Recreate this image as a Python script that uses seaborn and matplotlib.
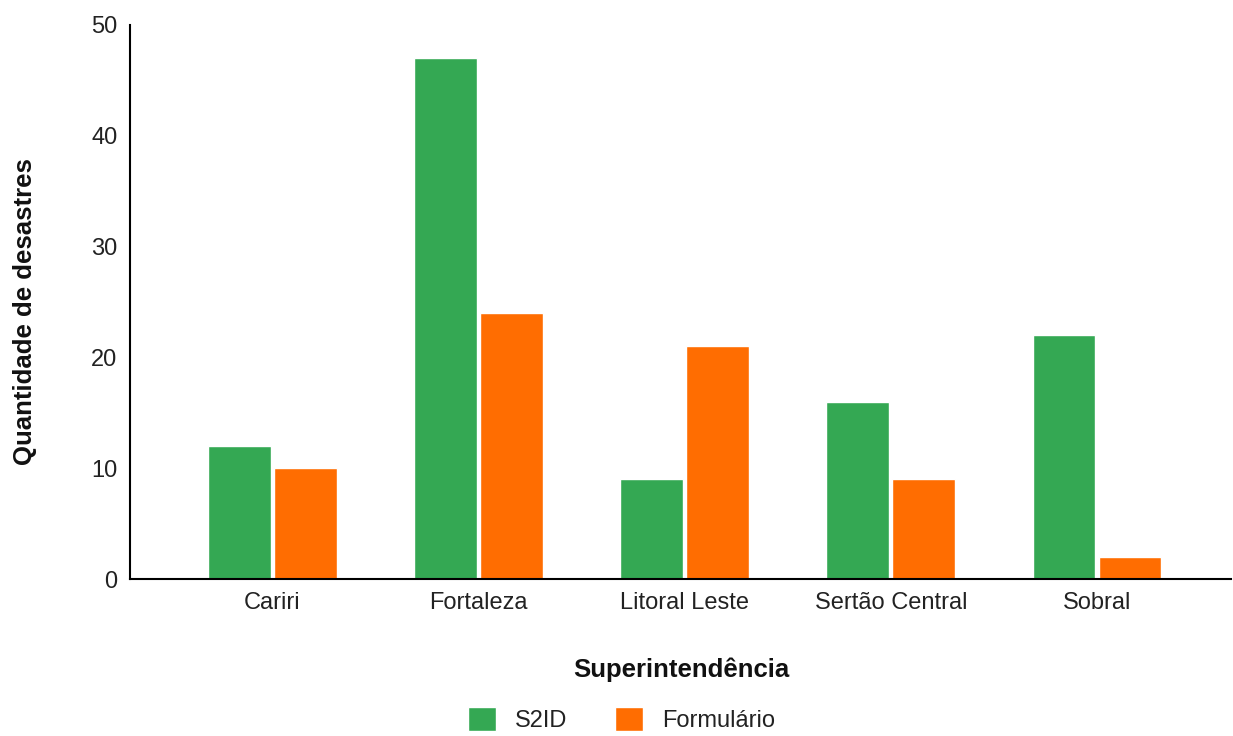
import pandas as pd
import numpy as np
import seaborn as sns
import matplotlib.pyplot as plt

categorias = ["Cariri", "Fortaleza", "Litoral Leste", "Sertão Central", "Sobral"]
s2id = [12, 47, 9, 16, 22]
formulario = [10, 24, 21, 9, 2]

df = pd.DataFrame({"Superintendência": categorias * 2,
                   "valor": s2id + formulario,
                   "fonte": ["S2ID"] * 5 + ["Formulário"] * 5})

sns.set_style("white")
plt.rcParams["font.family"] = ["Liberation Sans", "DejaVu Sans"]

fig = plt.figure(figsize=(12.33, 7.36), dpi=100)
ax = fig.add_axes([0.1054, 0.2133, 0.893, 0.753])

sns.barplot(data=df, x="Superintendência", y="valor", hue="fonte",
            palette={"S2ID": "#34A853", "Formulário": "#FF6D01"},
            saturation=1, width=0.64, gap=0.05, ax=ax, legend=True)

ax.set_ylim(0, 50)
ax.set_xlim(-0.69, 4.65)
ax.set_yticks([0, 10, 20, 30, 40, 50])
ax.tick_params(axis="both", length=0, labelsize=17, colors="#222222", pad=9)
for s in ["top", "right"]:
    ax.spines[s].set_visible(False)
for s in ["left", "bottom"]:
    ax.spines[s].set_color("black")
    ax.spines[s].set_linewidth(1.5)

ax.set_xlabel("Superintendência", fontsize=18.5, fontweight="bold", color="#111111")
ax.set_ylabel("Quantidade de desastres", fontsize=18.5, fontweight="bold", color="#111111")
ax.xaxis.set_label_coords(0.501, -0.164)
ax.yaxis.set_label_coords(-0.095, 0.482)
ax.xaxis.label.set_va("center")
ax.yaxis.label.set_va("center")

ax.get_legend().remove()
handles, labels = ax.get_legend_handles_labels()
fig.legend(handles, labels, loc="center", bbox_to_anchor=(0.504, 0.022), ncol=2, frameon=False,
           fontsize=17, handlelength=1.2, handleheight=1.2, handletextpad=0.8,
           columnspacing=2.0, labelcolor="#222222")

fig.savefig("out.png", dpi=100)
